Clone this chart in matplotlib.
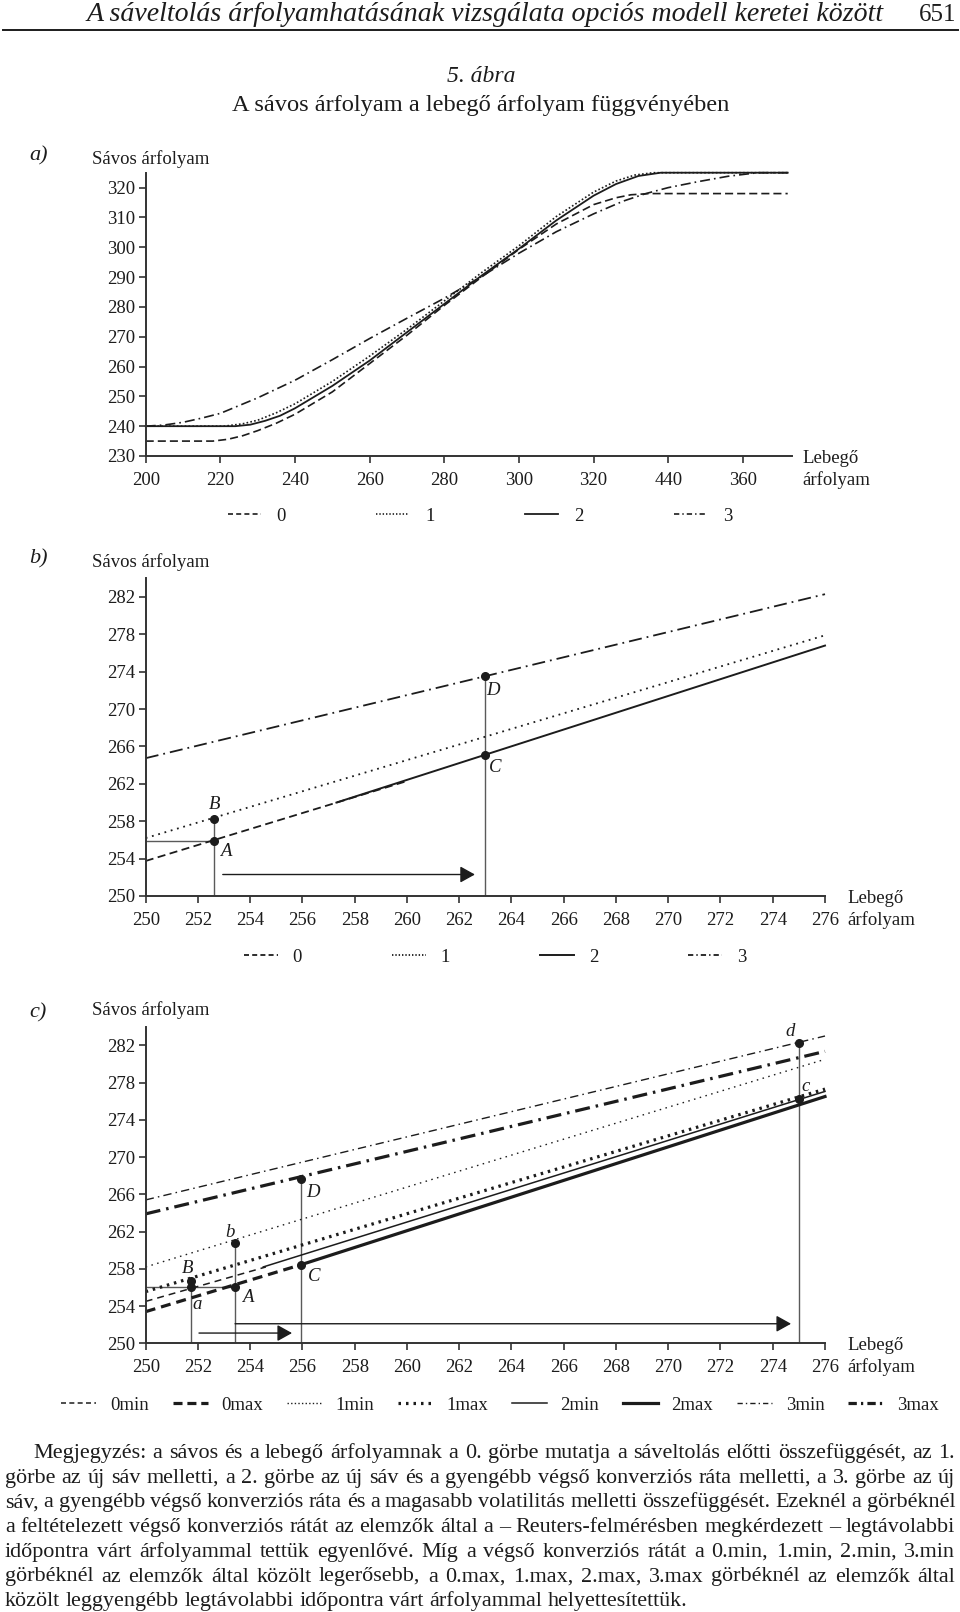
import matplotlib
matplotlib.use("Agg")
from matplotlib import pyplot as plt
from matplotlib.lines import Line2D

plt.rcParams['font.family'] = ['Liberation Serif', 'DejaVu Serif']
plt.rcParams['lines.scale_dashes'] = False

W, H = 960, 1612
INK = '#1c1c1c'
AXC = '#333333'
GUIDE = '#5a5a5a'
FS = 13.5

# ---------------- a) panel ----------------
a_xticks = [200, 220, 240, 260, 280, 300, 320, 340, 360]
a_xticklabels = ['200', '220', '240', '260', '280', '300', '320', '440', '360']
a_yticks = [230, 240, 250, 260, 270, 280, 290, 300, 310, 320]

# curve 0 (dashed)
a_x0 = [200, 218, 222, 226, 230, 235, 240, 250, 260, 270, 280, 290, 300, 310, 320, 326, 330, 335, 372]
a_y0 = [235, 235, 235.6, 236.8, 238.5, 241, 244, 251.5, 261, 270.5, 280.5, 290, 299.3, 307.8, 314.3, 316.6, 317.6, 318, 318]
# curve 1 (dotted)
a_x1 = [200, 221, 226, 230, 235, 240, 250, 260, 270, 280, 290, 300, 310, 320, 326, 331, 336, 372]
a_y1 = [240, 240, 240.8, 242, 244.5, 247.5, 255, 263.5, 272.5, 282, 291.5, 300.5, 310.3, 318.5, 322.2, 324.2, 325, 325]
# curve 2 (solid)
a_x2 = [200, 224, 228, 232, 236, 240, 250, 260, 270, 280, 290, 300, 310, 320, 326, 332, 338, 372]
a_y2 = [240, 240, 240.5, 241.8, 243.5, 246, 253.5, 262, 271.5, 281, 290.5, 299.5, 309, 317.3, 321.2, 323.9, 325, 325]
# curve 3 (dash-dot)
a_x3 = [200, 205, 210, 215, 220, 230, 240, 250, 260, 270, 280, 290, 300, 310, 320, 328, 334, 340, 348, 356, 364, 372]
a_y3 = [240, 240.4, 241.3, 242.7, 244.3, 249.5, 255.4, 262.3, 269.4, 276.2, 282.9, 290.2, 298, 305.2, 311.2, 315.5, 318, 320, 322, 323.8, 325, 325]

# ---------------- b) panel ----------------
bc_xticks = list(range(250, 277, 2))
bc_yticks = [250, 254, 258, 262, 266, 270, 274, 278, 282]

b_x0, b_y0 = [250, 260], [253.75, 262.3]
b_x1, b_y1 = [250, 276], [256.2, 277.9]
b_x2, b_y2 = [257.3, 276], [260.0, 276.8]
b_x3, b_y3 = [250, 276], [264.75, 282.3]
b_pt_x = [252.63, 252.63, 263, 263]
b_pt_y = [255.9, 258.2, 265.1, 273.5]
b_pt_lab = ['A', 'B', 'C', 'D']
b_arrow = [252.95, 262.6, 252.3]

# ---------------- c) panel ----------------
c_x0min, c_y0min = [250, 254.6], [254.5, 258.2]
c_x0max, c_y0max = [250, 255.9], [253.4, 258.4]
c_x1min, c_y1min = [250, 276], [258.2, 280.5]
c_x1max, c_y1max = [250, 276], [255.55, 277.3]
c_x2min, c_y2min = [254.5, 276], [258.2, 277.05]
c_x2max, c_y2max = [255.9, 276], [258.4, 276.5]
c_x3min, c_y3min = [250, 276], [265.4, 283.0]
c_x3max, c_y3max = [250, 276], [263.9, 281.35]
c_pt_x = [251.72, 251.72, 253.42, 253.42, 255.93, 255.93, 275.0, 275.0]
c_pt_y = [256.7, 256.0, 260.8, 256.0, 267.6, 258.4, 282.26, 276.2]
c_pt_lab = ['B', 'a', 'b', 'A', 'D', 'C', 'd', 'c']
c_arrows = [[252.04, 255.6, 251.1], [253.42, 274.7, 252.1]]

note_lines = [
    "Megjegyzés: a sávos és a lebegő árfolyamnak a 0. görbe mutatja a sáveltolás előtti összefüggését, az 1.",
    "görbe az új sáv melletti, a 2. görbe az új sáv és a gyengébb végső konverziós ráta melletti, a 3. görbe az új",
    "sáv, a gyengébb végső konverziós ráta és a magasabb volatilitás melletti összefüggését. Ezeknél a görbéknél",
    "a feltételezett végső konverziós rátát az elemzők által a – Reuters-felmérésben megkérdezett – legtávolabbi",
    "időpontra várt árfolyammal tettük egyenlővé. Míg a végső konverziós rátát a 0.min, 1.min, 2.min, 3.min",
    "görbéknél az elemzők által közölt legerősebb, a 0.max, 1.max, 2.max, 3.max görbéknél az elemzők által",
    "közölt leggyengébb legtávolabbi időpontra várt árfolyammal helyettesítettük.",
]

# line styles (dash lengths in points)
ST_A = {'0': dict(ls=(0, (5.8, 2.9)), lw=1.2),
        '1': dict(ls=(0, (1.2, 1.6)), lw=1.2),
        '2': dict(ls='-', lw=1.3),
        '3': dict(ls=(0, (7.2, 2.9, 1.2, 2.9)), lw=1.2)}
ST_B = {'0': dict(ls=(0, (5.8, 3.2)), lw=1.3),
        '1': dict(ls=(0, (1.3, 3.4)), lw=1.3),
        '2': dict(ls='-', lw=1.4),
        '3': dict(ls=(0, (9.4, 3.6, 1.3, 3.6)), lw=1.3)}
ST_C = {'0min': dict(ls=(0, (5, 3.6)), lw=1.1),
        '0max': dict(ls=(0, (7.2, 4.3)), lw=2.3),
        '1min': dict(ls=(0, (1.1, 3.2)), lw=1.0),
        '1max': dict(ls=(0, (1.8, 3.5)), lw=2.3),
        '2min': dict(ls='-', lw=1.1),
        '2max': dict(ls='-', lw=2.3),
        '3min': dict(ls=(0, (6, 3, 1.1, 3)), lw=1.0),
        '3max': dict(ls=(0, (10.8, 4.3, 1.8, 4.3)), lw=2.3)}
# shorter patterns used only for the legend samples
LEG = {'0': (0, (3.6, 2.3)), '1': (0, (1.0, 1.4)), '2': '-', '3': (0, (3.8, 2.2, 1.0, 2.2)),
       '0min': (0, (3.6, 2.4)), '0max': (0, (6.5, 3.5)), '1min': (0, (1.0, 1.6)), '1max': (0, (1.8, 3.6)),
       '2min': '-', '2max': '-', '3min': (0, (3.8, 2.2, 1.0, 2.2)), '3max': (0, (6, 3, 1.6, 3))}


def fx(px):
    return px / W


def fy(py):
    return 1 - py / H


fig = plt.figure(figsize=(W / 100, H / 100), dpi=100)
r = fig.canvas.get_renderer()


def setup(ax, xlim, ylim, xticks, xlabels, yticks):
    ax.set_xlim(xlim)
    ax.set_ylim(ylim)
    for s in ['top', 'right']:
        ax.spines[s].set_visible(False)
    for s in ['left', 'bottom']:
        ax.spines[s].set_color(AXC)
        ax.spines[s].set_linewidth(1.4)
    ax.set_xticks(xticks, xlabels)
    ax.set_yticks(yticks)
    ax.tick_params(direction='out', length=5, width=1.2, color=AXC, labelsize=FS, labelcolor=INK)
    ax.tick_params(axis='x', pad=6.5)
    ax.tick_params(axis='y', pad=2.5)
    ax.patch.set_visible(False)


def side_labels(y_axis_base, x_lab):
    fig.text(fx(x_lab), fy(y_axis_base), 'Lebegő', fontsize=FS, va='baseline', color=INK)
    fig.text(fx(x_lab), fy(y_axis_base + 22), 'árfolyam', fontsize=FS, va='baseline', color=INK)


def fit(t, width_px):
    w = t.get_window_extent(r).width
    t.set_fontsize(t.get_fontsize() * width_px / w)


def legend(keys, styles, ncol, center, hl, tp, cs):
    hs = [Line2D([], [], color=INK, linestyle=LEG[k], lw=styles[k]['lw']) for k in keys]
    fig.legend(hs, keys, ncol=ncol, loc='center', bbox_to_anchor=center, frameon=False, fontsize=FS,
               handlelength=hl, handletextpad=tp, columnspacing=cs, borderpad=0, labelcolor=INK)


# ---- header ----
hdr = fig.text(fx(87), fy(21), 'A sáveltolás árfolyamhatásának vizsgálata opciós modell keretei között',
               style='italic', fontsize=18, va='baseline', color=INK)
fit(hdr, 795)
fig.text(fx(956), fy(21), '651', fontsize=18, ha='right', va='baseline', color=INK)
fig.add_artist(Line2D([fx(3), fx(958)], [fy(30), fy(30)], color=INK, lw=1.4))
fig.text(fx(481), fy(82), '5. ábra', style='italic', fontsize=17, ha='center', va='baseline', color=INK)
t2 = fig.text(fx(481), fy(111), 'A sávos árfolyam a lebegő árfolyam függvényében',
              fontsize=17, ha='center', va='baseline', color=INK)
fit(t2, 499)

# ---- panel a ----
ax_a = fig.add_axes([fx(145.7), fy(456), (791.7 - 145.7) / W, (456 - 172.7) / H])
setup(ax_a, (200, 373.07), (230, 325), a_xticks, a_xticklabels, a_yticks)
for xs, ys, k in [(a_x0, a_y0, '0'), (a_x1, a_y1, '1'), (a_x2, a_y2, '2'), (a_x3, a_y3, '3')]:
    ax_a.plot(xs, ys, color=INK, linestyle=ST_A[k]['ls'], lw=ST_A[k]['lw'], clip_on=False)
fig.text(fx(29), fy(160), 'a)', style='italic', fontsize=16, va='baseline', color=INK)
fig.text(fx(92), fy(164), 'Sávos árfolyam', fontsize=FS, va='baseline', color=INK)
side_labels(463, 802)
legend(['0', '1', '2', '3'], ST_A, 4, (fx(480), fy(516)), 1.76, 0.85, 4.83)

# ---- panel b ----
ax_b = fig.add_axes([fx(145.7), fy(896), 679.3 / W, 317.7 / H])
setup(ax_b, (250, 276), (250, 284), bc_xticks, [str(v) for v in bc_xticks], bc_yticks)
# guides
ax_b.plot([250, b_pt_x[0]], [b_pt_y[0], b_pt_y[0]], color=GUIDE, lw=1.0)
ax_b.plot([b_pt_x[0], b_pt_x[1]], [250, b_pt_y[1]], color=GUIDE, lw=1.0)
ax_b.plot([b_pt_x[2], b_pt_x[3]], [250, b_pt_y[3]], color=GUIDE, lw=1.0)
for xs, ys, k in [(b_x0, b_y0, '0'), (b_x1, b_y1, '1'), (b_x2, b_y2, '2'), (b_x3, b_y3, '3')]:
    ax_b.plot(xs, ys, color=INK, linestyle=ST_B[k]['ls'], lw=ST_B[k]['lw'], clip_on=False)
ax_b.plot(b_pt_x, b_pt_y, 'o', color=INK, ms=5.5, clip_on=False)
b_off = {'A': (8, -8), 'B': (0, 11), 'C': (7, -9.2), 'D': (5.5, -10)}
for x, y, lab in zip(b_pt_x, b_pt_y, b_pt_lab):
    ax_b.annotate(lab, (x, y), xytext=b_off[lab], textcoords='offset points', ha='center', va='center',
                  style='italic', fontsize=FS, color=INK)
ax_b.annotate('', xy=(b_arrow[1], b_arrow[2]), xytext=(b_arrow[0], b_arrow[2]),
              arrowprops=dict(arrowstyle='-|>,head_length=0.45,head_width=0.25', color=INK, lw=1.0,
                              mutation_scale=20, shrinkA=0, shrinkB=0))
fig.text(fx(29), fy(563), 'b)', style='italic', fontsize=16, va='baseline', color=INK)
fig.text(fx(92), fy(567), 'Sávos árfolyam', fontsize=FS, va='baseline', color=INK)
side_labels(903, 847)
legend(['0', '1', '2', '3'], ST_B, 4, (fx(495), fy(957)), 1.8, 0.8, 4.8)

# ---- panel c ----
ax_c = fig.add_axes([fx(145.7), fy(1343.3), 679.3 / W, 316.6 / H])
setup(ax_c, (250, 276), (250, 284), bc_xticks, [str(v) for v in bc_xticks], bc_yticks)
ax_c.plot([250, c_pt_x[3]], [c_pt_y[3], c_pt_y[3]], color=GUIDE, lw=1.0)
for i_top in [0, 2, 4, 6]:
    ax_c.plot([c_pt_x[i_top], c_pt_x[i_top]], [250, c_pt_y[i_top]], color=GUIDE, lw=1.0)
c_series = [(c_x0min, c_y0min, '0min'), (c_x0max, c_y0max, '0max'), (c_x1min, c_y1min, '1min'),
            (c_x1max, c_y1max, '1max'), (c_x2min, c_y2min, '2min'), (c_x2max, c_y2max, '2max'),
            (c_x3min, c_y3min, '3min'), (c_x3max, c_y3max, '3max')]
for xs, ys, k in c_series:
    ax_c.plot(xs, ys, color=INK, linestyle=ST_C[k]['ls'], lw=ST_C[k]['lw'], clip_on=False)
ax_c.plot(c_pt_x, c_pt_y, 'o', color=INK, ms=5.5, clip_on=False)
c_off = {'B': (-2, 9), 'a': (5, -12), 'b': (-3.5, 7.5), 'A': (9, -7.5), 'D': (9, -9.5), 'C': (9.5, -8),
         'd': (-6, 8.5), 'c': (5, 9.5)}
for x, y, lab in zip(c_pt_x, c_pt_y, c_pt_lab):
    ax_c.annotate(lab, (x, y), xytext=c_off[lab], textcoords='offset points', ha='center', va='center',
                  style='italic', fontsize=FS, color=INK)
for x0, x1, y in c_arrows:
    ax_c.annotate('', xy=(x1, y), xytext=(x0, y),
                  arrowprops=dict(arrowstyle='-|>,head_length=0.45,head_width=0.25', color=INK, lw=1.0,
                                  mutation_scale=20, shrinkA=0, shrinkB=0))
fig.text(fx(29), fy(1017), 'c)', style='italic', fontsize=16, va='baseline', color=INK)
fig.text(fx(92), fy(1015), 'Sávos árfolyam', fontsize=FS, va='baseline', color=INK)
side_labels(1350, 847)
c_keys = ['0min', '0max', '1min', '1max', '2min', '2max', '3min', '3max']
legend(c_keys, ST_C, 8, (fx(500), fy(1405)), 1.87, 0.72, 1.27)

# ---- note (justified) ----
probe = fig.text(0, 0, note_lines[-1], fontsize=14)
note_fs = 14 * 687 / probe.get_window_extent(r).width
probe.remove()
space = note_fs * 100 / 72 * 0.25
for i, line in enumerate(note_lines):
    words = line.split(' ')
    ypos = fy(1458 + i * 24.7)
    ts = [fig.text(0, ypos, w, fontsize=note_fs, va='baseline', color=INK) for w in words]
    ws = [t.get_window_extent(r).width for t in ts]
    x = 33 if i == 0 else 5
    if i < len(note_lines) - 1:
        gap = (955 - x - sum(ws)) / (len(words) - 1)
    else:
        gap = space
    for t, w in zip(ts, ws):
        t.set_x(fx(x))
        x += w + gap

plt.savefig("out.png", dpi=100)
